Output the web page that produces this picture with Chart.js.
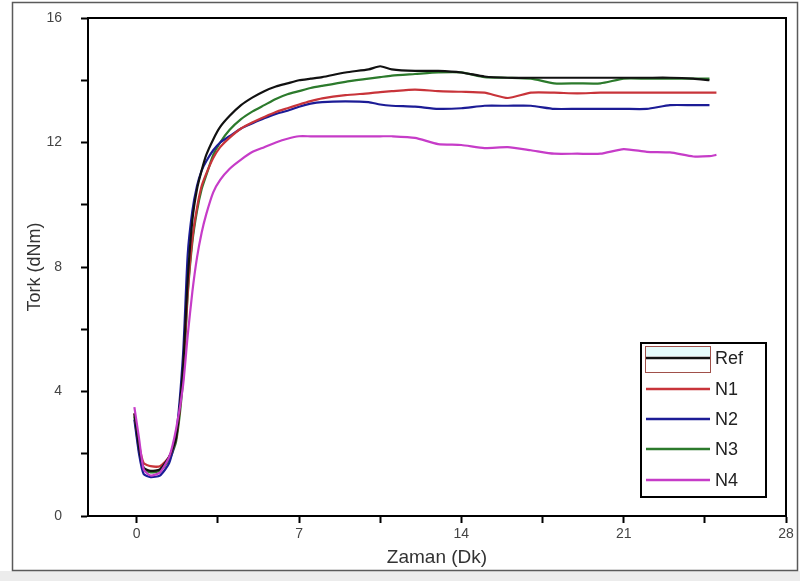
<!DOCTYPE html>
<html>
<head>
<meta charset="utf-8">
<script src="https://cdn.jsdelivr.net/npm/chart.js@4.4.0/dist/chart.umd.min.js"></script>
<style>
  html, body { margin: 0; padding: 0; background: #fff; }
  #wrap { width: 800px; height: 581px; position: relative; }
</style>
</head>
<body>
<div id="wrap"><canvas id="torkChart" width="800" height="581"></canvas></div>
<script>
// Time axis (minutes) shared by all series
const times = [-0.1, 0.1, 0.3, 0.6, 1.0, 1.4, 1.7, 2.0, 2.2, 2.4, 2.6, 2.8, 3.0, 3.3, 3.6, 4.0, 4.5, 5.0, 5.5, 6.0, 6.5, 7.0, 7.5, 8.0, 9.0, 10.0, 10.5, 11.0, 12.0, 13.0, 14.0, 15.0, 16.0, 17.0, 18.0, 19.0, 20.0, 21.0, 22.0, 23.0, 24.0, 24.7, 25.0];

// Torque values (dNm)
const refVals = [3.3, 2.2, 1.55, 1.45, 1.5, 1.9, 2.5, 4.8, 7.6, 9.5, 10.5, 11.1, 11.6, 12.1, 12.5, 12.85, 13.2, 13.45, 13.65, 13.8, 13.9, 14.0, 14.05, 14.1, 14.25, 14.35, 14.45, 14.35, 14.3, 14.3, 14.25, 14.12, 14.08, 14.08, 14.08, 14.08, 14.08, 14.08, 14.08, 14.08, 14.05, 14.0, null];
const n1Vals = [3.3, 2.3, 1.7, 1.6, 1.6, 1.9, 2.5, 4.6, 7.2, 8.9, 9.9, 10.6, 11.0, 11.5, 11.85, 12.15, 12.45, 12.65, 12.82, 12.98, 13.1, 13.22, 13.33, 13.42, 13.52, 13.58, 13.62, 13.65, 13.7, 13.65, 13.63, 13.6, 13.43, 13.6, 13.6, 13.58, 13.6, 13.6, 13.6, 13.6, 13.6, 13.6, 13.6];
const n2Vals = [3.1, 2.0, 1.35, 1.25, 1.3, 1.7, 2.6, 5.2, 8.4, 9.8, 10.6, 11.1, 11.4, 11.75, 12.0, 12.2, 12.45, 12.62, 12.78, 12.92, 13.02, 13.15, 13.25, 13.3, 13.32, 13.3, 13.22, 13.18, 13.15, 13.08, 13.1, 13.18, 13.18, 13.18, 13.08, 13.08, 13.08, 13.08, 13.08, 13.2, 13.2, 13.2, null];
const n3Vals = [3.2, 2.1, 1.5, 1.4, 1.45, 1.8, 2.4, 4.4, 7.1, 8.8, 9.8, 10.5, 10.95, 11.6, 12.0, 12.4, 12.75, 13.0, 13.2, 13.4, 13.55, 13.65, 13.75, 13.82, 13.95, 14.05, 14.1, 14.15, 14.2, 14.25, 14.25, 14.1, 14.08, 14.05, 13.9, 13.9, 13.9, 14.05, 14.05, 14.05, 14.05, 14.05, null];
const n4Vals = [3.5, 2.5, 1.5, 1.3, 1.4, 1.9, 2.8, 4.2, 5.8, 7.2, 8.3, 9.1, 9.7, 10.4, 10.8, 11.15, 11.45, 11.7, 11.85, 12.0, 12.12, 12.2, 12.2, 12.2, 12.2, 12.2, 12.2, 12.2, 12.15, 11.95, 11.92, 11.82, 11.85, 11.75, 11.64, 11.64, 11.64, 11.79, 11.7, 11.68, 11.55, 11.56, 11.6];

const seriesNames = ['Ref', 'N1', 'N2', 'N3', 'N4'];
const seriesColors = ['#111111', '#c8343a', '#1c1c96', '#2c7a2c', '#c63cc8'];
const xTickLabels = [0, 7, 14, 21, 28];
const yTickLabels = [0, 4, 8, 12, 16];

const toPoints = vals => vals.map((v, i) => ({ x: times[i], y: v }));
const allVals = [refVals, n1Vals, n2Vals, n3Vals, n4Vals];

// magenta drawn on top, then Ref, then the rest
const datasets = allVals.map((vals, i) => ({
    label: seriesNames[i],
    data: toPoints(vals),
    borderColor: seriesColors[i],
    borderWidth: 2.2,
    pointRadius: 0,
    tension: 0.2,
    fill: false,
    spanGaps: false,
    order: i === 0 ? 1 : (i === 4 ? 0 : 2)
}));

// page frame + plot box + legend
const framePlugin = {
    id: 'framePlugin',
    beforeDraw(chart) {
        const c = chart.ctx;
        c.save();
        c.fillStyle = '#ffffff';
        c.fillRect(0, 0, chart.width, chart.height);
        c.fillStyle = '#ececec';
        c.fillRect(0, 571, chart.width, chart.height - 571);
        c.strokeStyle = '#5a5a5a';
        c.lineWidth = 1.5;
        c.strokeRect(12.5, 2.5, 785, 568);
        c.restore();
    },
    afterDatasetsDraw(chart) {
        const c = chart.ctx;
        const a = chart.chartArea;
        c.save();
        // plot box
        c.strokeStyle = '#000';
        c.lineWidth = 2;
        c.strokeRect(a.left, a.top, a.right - a.left, a.bottom - a.top);

        // legend box
        const bx = a.right - 145, by = a.bottom - 173, bw = 125, bh = 154;
        c.fillStyle = '#fff';
        c.fillRect(bx, by, bw, bh);
        c.lineWidth = 2;
        c.strokeStyle = '#000';
        c.strokeRect(bx, by, bw, bh);

        const rows = [15, 46, 76, 106, 137];
        // odd swatch behind the Ref entry
        c.fillStyle = '#e6fbfb';
        c.fillRect(bx + 4, by + 3, 65, 10);
        c.strokeStyle = '#a0504a';
        c.lineWidth = 1;
        c.strokeRect(bx + 4.5, by + 3.5, 65, 26);

        c.font = '18px "Liberation Sans", Arial, sans-serif';
        c.textBaseline = 'middle';
        rows.forEach((ry, i) => {
            c.strokeStyle = seriesColors[i];
            c.lineWidth = 2.5;
            c.beginPath();
            c.moveTo(bx + 5, by + ry);
            c.lineTo(bx + 69, by + ry);
            c.stroke();
            c.fillStyle = '#222';
            c.fillText(seriesNames[i], bx + 74, by + ry + 1);
        });
        c.restore();
    }
};

const ctx = document.getElementById('torkChart').getContext('2d');
new Chart(ctx, {
    type: 'line',
    data: { datasets: datasets },
    options: {
        responsive: false,
        animation: false,
        layout: { padding: { left: 0, top: 18, right: 14, bottom: 0 } },
        plugins: {
            legend: { display: false },
            tooltip: { enabled: false }
        },
        scales: {
            x: {
                type: 'linear',
                min: -2.1,
                max: 28,
                afterBuildTicks: scale => {
                    const t = [];
                    for (let v = 0; v <= 28; v += 3.5) t.push({ value: v });
                    scale.ticks = t;
                },
                afterFit: scale => { scale.height = 65; },
                grid: { drawOnChartArea: false, tickLength: 7, tickColor: '#000', tickWidth: 2 },
                border: { display: true, color: '#000', width: 2 },
                ticks: {
                    autoSkip: false,
                    maxRotation: 0,
                    padding: 3,
                    color: '#444',
                    font: { family: '"Liberation Sans", Arial, sans-serif', size: 14 },
                    callback: v => xTickLabels.includes(v) ? String(v) : ''
                },
                title: {
                    display: true,
                    text: 'Zaman (Dk)',
                    color: '#333',
                    padding: { top: 0, bottom: 12 },
                    font: { family: '"Liberation Sans", Arial, sans-serif', size: 19 }
                }
            },
            y: {
                min: 0,
                max: 16,
                afterBuildTicks: scale => {
                    const t = [];
                    for (let v = 0; v <= 16; v += 2) t.push({ value: v });
                    scale.ticks = t;
                },
                afterFit: scale => {
                    scale.width = 88;
                    scale.paddingTop = 8;
                    scale.paddingBottom = 8;
                },
                grid: { drawOnChartArea: false, tickLength: 7, tickColor: '#000', tickWidth: 2 },
                border: { display: true, color: '#000', width: 2 },
                ticks: {
                    autoSkip: false,
                    padding: 19,
                    color: '#444',
                    font: { family: '"Liberation Sans", Arial, sans-serif', size: 14 },
                    callback: v => yTickLabels.includes(v) ? String(v) : ''
                },
                title: {
                    display: true,
                    text: 'Tork (dNm)',
                    color: '#333',
                    padding: { top: 24, bottom: 0 },
                    font: { family: '"Liberation Sans", Arial, sans-serif', size: 18 }
                }
            }
        }
    },
    plugins: [framePlugin]
});
</script>
</body>
</html>
